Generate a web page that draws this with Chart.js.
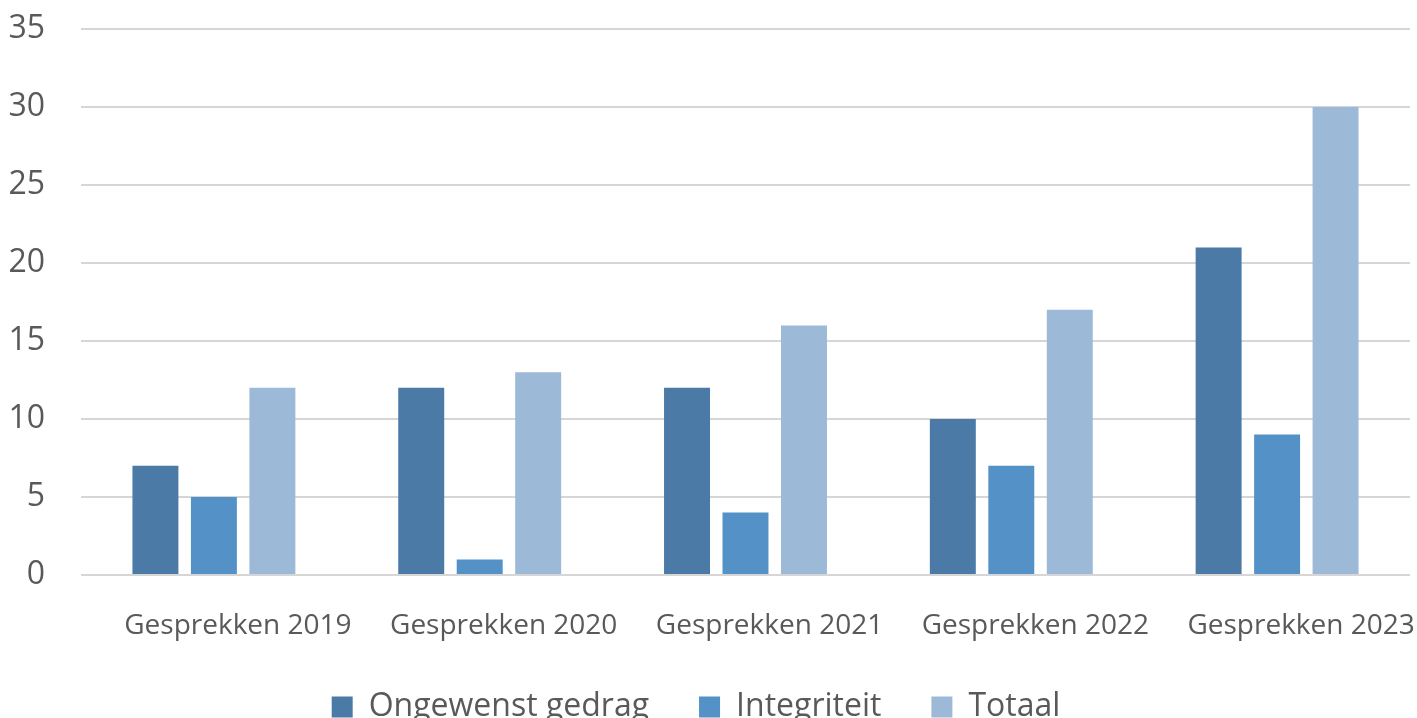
<!DOCTYPE html>
<html>
<head>
<meta charset="utf-8">
<script src="https://cdn.jsdelivr.net/npm/chart.js@4/dist/chart.umd.min.js"></script>
<style>
html,body{margin:0;padding:0;background:#fff;}
#wrap{width:1417px;height:718px;position:relative;}
</style>
</head>
<body>
<div id="wrap"><canvas id="c" width="1417" height="718"></canvas></div>
<script>
const categories = ["Gesprekken 2019","Gesprekken 2020","Gesprekken 2021","Gesprekken 2022","Gesprekken 2023"];
const ongewenstGedrag = [7,12,12,10,21];
const integriteit = [5,1,4,7,9];
const totaal = [12,13,16,17,30];
const seriesNames = ["Ongewenst gedrag","Integriteit","Totaal"];
const yTicks = [0,5,10,15,20,25,30,35];

const colors = ["#4a7aa5","#5391c6","#9db9d8"];
const FONT = "'Open Sans', sans-serif";
const LEGEND_PAD = 50;
const LEGEND_H = 56;
const LEGEND_ITEM_TOP = 691;
const LEGEND_SHIFT_X = -13;

const legendFitPlugin = {
  id: 'legendFit',
  beforeInit(chart) {
    const orig = chart.legend.fit;
    chart.legend.fit = function() {
      orig.call(this);
      this.height = LEGEND_H;
    };
  },
  afterLayout(chart) {
    const lg = chart.legend;
    const shift = (LEGEND_ITEM_TOP - LEGEND_PAD) - lg.top;
    lg.top += shift;
    lg.bottom = 718 + 100;
    lg.height = lg.bottom - lg.top;
    lg.left += LEGEND_SHIFT_X;
    lg.right += LEGEND_SHIFT_X;
    if (lg.legendHitBoxes) lg.legendHitBoxes.forEach(b => { b.top += shift; b.left += LEGEND_SHIFT_X; });
  }
};

new Chart(document.getElementById('c'), {
  type: 'bar',
  data: {
    labels: categories,
    datasets: [
      {label: seriesNames[0], data: ongewenstGedrag, backgroundColor: colors[0]},
      {label: seriesNames[1], data: integriteit, backgroundColor: colors[1]},
      {label: seriesNames[2], data: totaal, backgroundColor: colors[2]}
    ]
  },
  options: {
    responsive: false,
    animation: false,
    devicePixelRatio: 1,
    layout: {autoPadding: false, padding: {left: 8, right: 7, top: 29, bottom: 0}},
    datasets: {bar: {categoryPercentage: 0.66, barPercentage: 0.786}},
    scales: {
      x: {
        grid: {display: false, drawTicks: false},
        border: {display: false},
        ticks: {color: '#595959', font: {family: FONT, size: 28}, padding: 34, labelOffset: 24, maxRotation: 0, autoSkip: false},
        afterFit(scale) { scale.height = 718 - 575 - LEGEND_H; scale.paddingLeft = 0; scale.paddingRight = 0; }
      },
      y: {
        min: 0, max: 35,
        afterBuildTicks(scale) { scale.ticks = yTicks.map(v => ({value: v})); },
        grid: {color: '#d6d6d6', lineWidth: 2, drawTicks: false, tickLength: 0},
        border: {display: false},
        ticks: {color: '#595959', font: {family: FONT, size: 32}, padding: 36},
        afterFit(scale) { scale.width = 73; scale.paddingTop = 0; scale.paddingBottom = 0; }
      }
    },
    plugins: {
      legend: {
        position: 'bottom',
        labels: {
          color: '#595959',
          font: {family: FONT, size: 32},
          boxWidth: 21, boxHeight: 21,
          padding: LEGEND_PAD
        }
      },
      tooltip: {enabled: false}
    }
  },
  plugins: [legendFitPlugin]
});
</script>
</body>
</html>
